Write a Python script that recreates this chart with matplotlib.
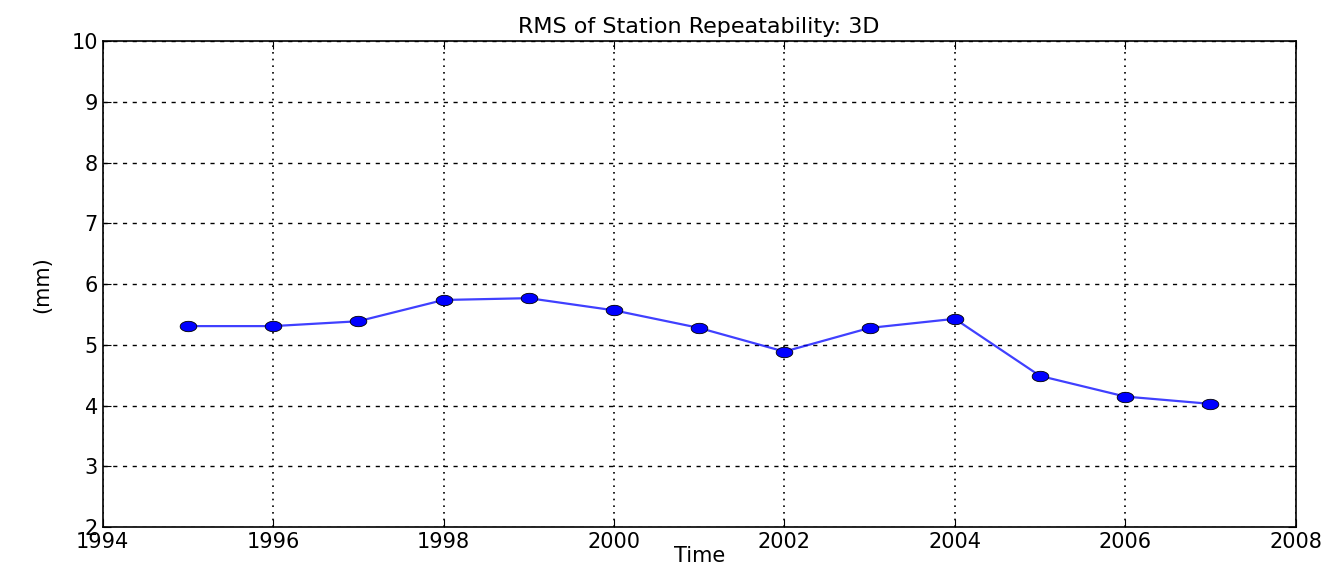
import numpy as np
import matplotlib
matplotlib.use("Agg")
import matplotlib.pyplot as plt

years = [1995, 1996, 1997, 1998, 1999, 2000, 2001, 2002, 2003, 2004, 2005, 2006, 2007]
rms_3d = [5.31, 5.31, 5.39, 5.74, 5.77, 5.57, 5.28, 4.89, 5.28, 5.43, 4.49, 4.15, 4.03]

# wide ellipse marker (the reference image is stretched sideways)
t = np.linspace(0, 2 * np.pi, 40)
ellipse = np.column_stack([1.6 * np.cos(t), np.sin(t)])

fig = plt.figure(figsize=(13.33, 5.65), dpi=100)
ax = fig.add_axes([0.077, 0.067, 0.895, 0.86])

ax.plot(years, rms_3d, color="blue", alpha=0.75, lw=1.6)
ax.plot(years, rms_3d, marker=ellipse, color="blue", mec="black", mew=0.6,
        ms=12, ls="none")

ax.set_xlim(1994, 2008)
ax.set_ylim(2, 10)
ax.set_xticks(np.arange(1994, 2009, 2))
ax.set_yticks(np.arange(2, 11, 1))
ax.tick_params(labelsize=15, direction="in", length=6, color="black")
ax.tick_params(top=True, right=True)
ax.xaxis.grid(True, color="black", ls=(0, (1, 3)), lw=1.2)
ax.yaxis.grid(True, color="black", ls=(0, (3, 4)), lw=1)
for s in ax.spines.values():
    s.set_linewidth(1.2)
ax.set_title("RMS of Station Repeatability: 3D", fontsize=16)
ax.set_xlabel("Time", fontsize=15, labelpad=-4)
ax.set_ylabel("(mm)", fontsize=15, labelpad=14)

plt.savefig("out.png", dpi=100)
plt.close()
